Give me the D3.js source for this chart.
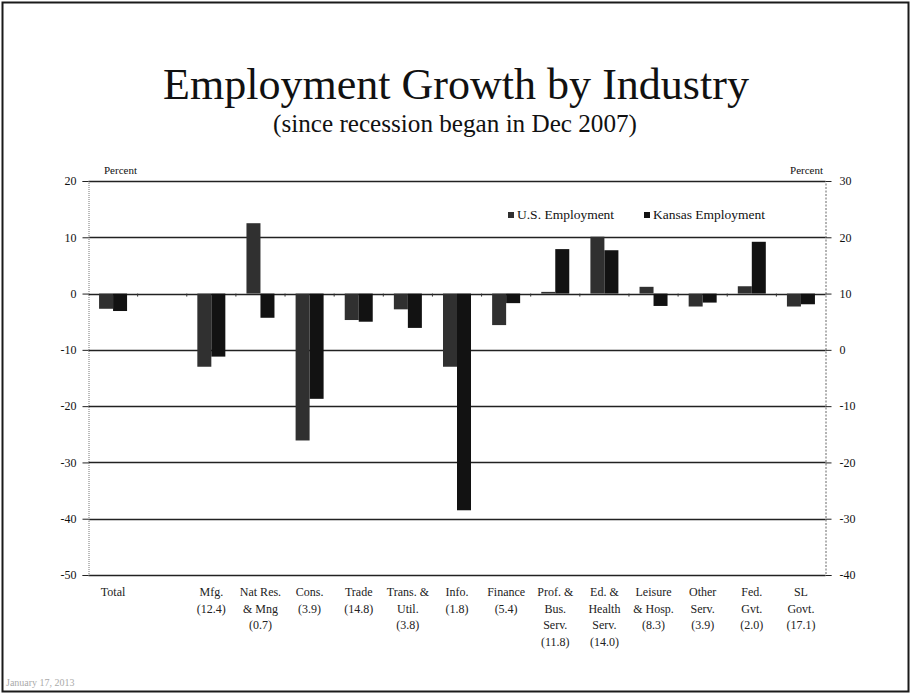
<!DOCTYPE html>
<html>
<head>
<meta charset="utf-8">
<script src="https://cdn.jsdelivr.net/npm/d3@7"></script>
<style>
  html, body { margin: 0; padding: 0; background: #fff; }
  svg { display: block; font-family: "Liberation Serif", "DejaVu Serif", serif; }
</style>
</head>
<body>
<svg id="chart" width="912" height="695"></svg>
<script>
// ---- data ----
const categories = [
  ["Total"], [""], ["Mfg.", "(12.4)"], ["Nat Res.", "& Mng", "(0.7)"], ["Cons.", "(3.9)"],
  ["Trade", "(14.8)"], ["Trans. &", "Util.", "(3.8)"], ["Info.", "(1.8)"], ["Finance", "(5.4)"],
  ["Prof. &", "Bus.", "Serv.", "(11.8)"], ["Ed. &", "Health", "Serv.", "(14.0)"],
  ["Leisure", "& Hosp.", "(8.3)"], ["Other", "Serv.", "(3.9)"], ["Fed.", "Gvt.", "(2.0)"], ["SL", "Govt.", "(17.1)"]
];
const usEmployment = [-2.7, null, -13.0, 12.5, -26.1, -4.7, -2.8, -13.0, -5.6, 0.3, 10.1, 1.2, -2.3, 1.3, -2.3];
const ksEmployment = [-3.1, null, -11.2, -4.3, -18.7, -5.0, -6.1, -38.5, -1.7, 7.9, 7.7, -2.2, -1.6, 9.2, -1.9];
const seriesNames = ["U.S. Employment", "Kansas Employment"];
const leftTicks = [20, 10, 0, -10, -20, -30, -40, -50];
const rightTicks = [30, 20, 10, 0, -10, -20, -30, -40];
const titleText = "Employment Growth by Industry";
const subtitleText = "(since recession began in Dec 2007)";
const dateText = "January 17, 2013";

// ---- layout ----
const svg = d3.select("#chart");
const plot = { left: 88.5, right: 825.5, top: 181, bottom: 575 };
const colors = ["#303030", "#121212"];

const y = d3.scaleLinear().domain([-50, 20]).range([plot.bottom, plot.top]);
const yRight = d3.scaleLinear().domain([-40, 30]).range([plot.bottom, plot.top]);
const x = d3.scaleBand().domain(d3.range(categories.length)).range([plot.left, plot.right]).padding(0);
const bw = x.bandwidth();
const xs = d3.scaleBand().domain([0, 1]).range([bw * 0.215, bw * 0.785]).padding(0);
const fmt = d => String(d);

// border
svg.append("rect").attr("x", 2.5).attr("y", 2.5).attr("width", 906).attr("height", 689)
  .attr("fill", "none").attr("stroke", "#1a1a1a").attr("stroke-width", 2);

// title
function fitText(sel, w) {
  const len = sel.node().getComputedTextLength();
  const fs = parseFloat(sel.attr("font-size"));
  sel.attr("font-size", fs * w / len);
}
const t1 = svg.append("text").attr("x", 456).attr("y", 99).attr("text-anchor", "middle")
  .attr("font-size", 36).attr("fill", "#111").text(titleText);
fitText(t1, 586);
const t2 = svg.append("text").attr("x", 455).attr("y", 132).attr("text-anchor", "middle")
  .attr("font-size", 24).attr("fill", "#111").text(subtitleText);
fitText(t2, 364);

// gridlines
svg.append("g").selectAll("line").data(leftTicks).join("line")
  .attr("x1", plot.left).attr("x2", plot.right)
  .attr("y1", d => Math.round(y(d)) + 0.5).attr("y2", d => Math.round(y(d)) + 0.5)
  .attr("stroke", "#222").attr("stroke-width", 1.3);

// left axis
const gl = svg.append("g").attr("transform", `translate(${plot.left},0)`)
  .call(d3.axisLeft(y).tickValues(leftTicks).tickSize(6).tickPadding(6).tickFormat(fmt));
gl.select(".domain").attr("stroke", "#777").attr("stroke-dasharray", "1,1");
gl.selectAll(".tick line").attr("stroke", "#222");
gl.selectAll("text").attr("font-size", 12).attr("fill", "#111").attr("font-family", "Liberation Serif, serif");

// right axis
const gr = svg.append("g").attr("transform", `translate(${plot.right},0)`)
  .call(d3.axisRight(yRight).tickValues(rightTicks).tickSize(6).tickPadding(8).tickFormat(fmt));
gr.select(".domain").attr("stroke", "#666").attr("stroke-dasharray", "2,1.5");
gr.selectAll(".tick line").attr("stroke", "#222");
gr.selectAll("text").attr("font-size", 12).attr("fill", "#111").attr("font-family", "Liberation Serif, serif");

// "Percent" labels
svg.append("text").attr("x", 104).attr("y", 174).attr("font-size", 11).attr("fill", "#111").text("Percent");
svg.append("text").attr("x", 823).attr("y", 174).attr("font-size", 11).attr("fill", "#111")
  .attr("text-anchor", "end").text("Percent");

// category ticks on zero line
svg.append("g").selectAll("line").data(d3.range(1, categories.length)).join("line")
  .attr("x1", d => x(d)).attr("x2", d => x(d))
  .attr("y1", y(0)).attr("y2", y(0) + 3).attr("stroke", "#333").attr("stroke-width", 1);

// bars
const series = [usEmployment, ksEmployment];
series.forEach((vals, si) => {
  svg.append("g").selectAll("rect")
    .data(vals.map((v, i) => ({ v, i })).filter(d => d.v !== null))
    .join("rect")
    .attr("x", d => x(d.i) + xs(si))
    .attr("width", xs.bandwidth())
    .attr("y", d => y(Math.max(0, d.v)))
    .attr("height", d => Math.abs(y(d.v) - y(0)))
    .attr("fill", colors[si]);
});

// category labels
const lab = svg.append("g").selectAll("text").data(categories.map((c, i) => ({ c, i }))).join("text")
  .attr("x", d => x(d.i) + bw / 2).attr("y", 596).attr("text-anchor", "middle")
  .attr("font-size", 12).attr("fill", "#222");
lab.each(function(d) {
  d3.select(this).selectAll("tspan").data(d.c).join("tspan")
    .attr("x", x(d.i) + bw / 2).attr("dy", (t, k) => k === 0 ? 0 : 16.5).text(t => t);
});

// legend
const lg = svg.append("g");
const legX = [508, 644];
seriesNames.forEach((n, i) => {
  lg.append("rect").attr("x", legX[i]).attr("y", 212).attr("width", 6).attr("height", 6).attr("fill", colors[i]);
  lg.append("text").attr("x", legX[i] + 9).attr("y", 219).attr("font-size", 13.5).attr("fill", "#111").text(n);
});

// date footer
svg.append("text").attr("x", 6).attr("y", 686).attr("font-size", 10).attr("fill", "#aaa").text(dateText);
</script>
</body>
</html>
